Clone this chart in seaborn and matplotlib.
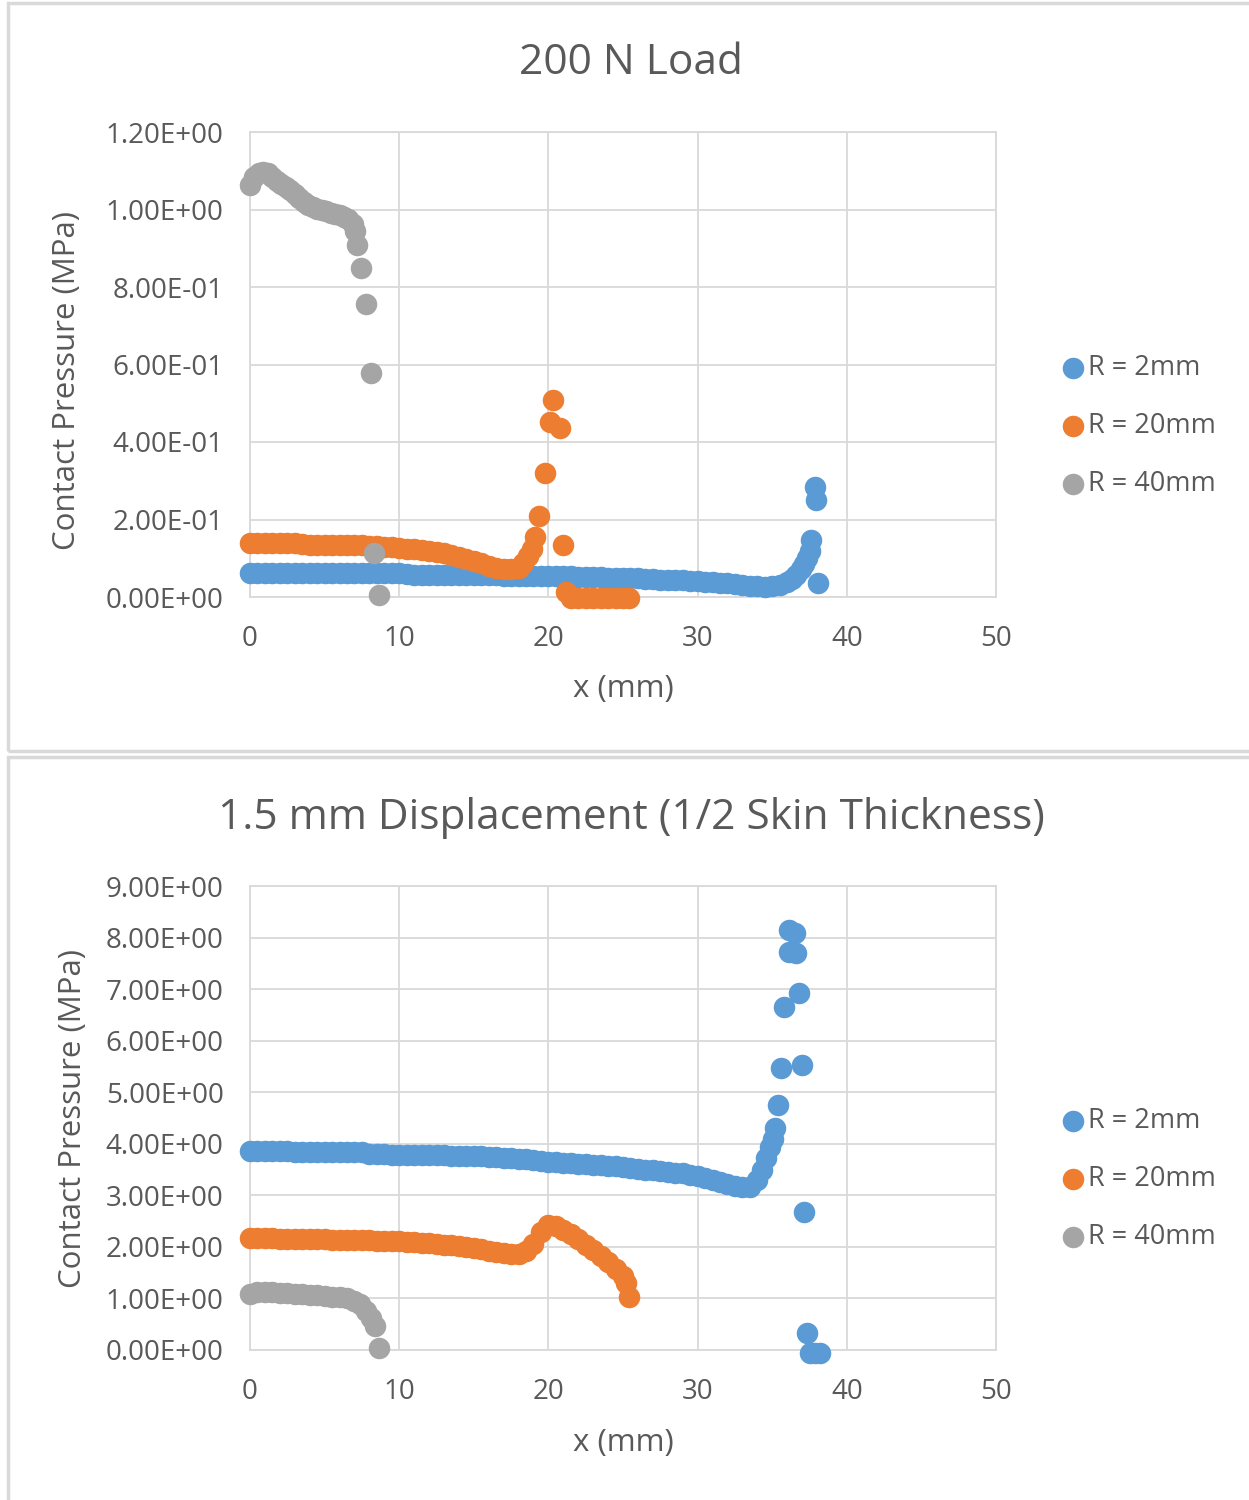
import matplotlib
matplotlib.use("Agg")
import matplotlib.pyplot as plt
from matplotlib.patches import Rectangle
import seaborn as sns

# =====================
# data: top chart (200 N load)
# =====================
top_r2_x = [0, 0.5, 1, 1.5, 2, 2.5, 3, 3.5, 4, 4.5, 5, 5.5, 6, 6.5, 7, 7.5, 8, 8.5, 9, 9.5,
            10, 10.5, 11, 11.5, 12, 12.5, 13, 13.5, 14, 14.5, 15, 15.5, 16, 16.5, 17, 17.5,
            18, 18.5, 19, 19.5, 20, 20.5, 21, 21.5, 22, 22.5, 23, 23.5, 24, 24.5, 25, 25.5,
            26, 26.5, 27, 27.5, 28, 28.5, 29, 29.5, 30, 30.5, 31, 31.5, 32, 32.5, 33, 33.5,
            34, 34.5, 35, 35.5, 36, 36.3, 36.6, 36.9, 37.1, 37.3, 37.5, 37.6, 37.87, 37.95, 38.1]
top_r2_y = [0.062, 0.062, 0.062, 0.062, 0.062, 0.062, 0.062, 0.062, 0.062, 0.062, 0.062,
            0.061, 0.061, 0.061, 0.061, 0.061, 0.061, 0.061, 0.061, 0.061, 0.061,
            0.059, 0.058, 0.057, 0.057, 0.057, 0.057, 0.057, 0.057,
            0.056, 0.056, 0.056, 0.056, 0.056, 0.055, 0.055, 0.055, 0.055,
            0.054, 0.054, 0.054, 0.053, 0.053, 0.053, 0.052, 0.052, 0.051, 0.051,
            0.050, 0.050, 0.049, 0.049,
            0.048, 0.047, 0.046, 0.045, 0.045, 0.044, 0.043, 0.042, 0.041, 0.040, 0.038,
            0.037, 0.035, 0.033, 0.031, 0.029, 0.028, 0.027, 0.028, 0.031, 0.038,
            0.047, 0.058, 0.072, 0.085, 0.100, 0.120, 0.147, 0.284, 0.250, 0.036]

top_r20_x = [0, 0.5, 1, 1.5, 2, 2.5, 3, 3.5, 4, 4.5, 5, 5.5, 6, 6.5, 7, 7.5, 8, 8.5, 9, 9.5,
             10, 10.5, 11, 11.5, 12, 12.5, 13, 13.5, 14, 14.5, 15, 15.5, 16, 16.5, 17, 17.5,
             18, 18.3, 18.6, 18.9, 19.1, 19.4, 19.8, 20.1, 20.3, 20.8, 21.0, 21.2, 21.5,
             22, 22.5, 23, 23.5, 24, 24.5, 25, 25.4]
top_r20_y = [0.139, 0.139, 0.139, 0.139, 0.139, 0.139, 0.139,
             0.136, 0.135, 0.135, 0.135, 0.134, 0.134, 0.134, 0.133, 0.133, 0.132,
             0.131, 0.130, 0.128, 0.126, 0.125, 0.123, 0.121, 0.119, 0.116, 0.113, 0.109,
             0.104, 0.099, 0.093, 0.087, 0.081, 0.076, 0.072, 0.071,
             0.076, 0.088, 0.105, 0.125, 0.155, 0.210, 0.320, 0.452, 0.508, 0.436, 0.134,
             0.012, -0.002, -0.003, -0.003, -0.003, -0.003, -0.003, -0.003, -0.003, -0.003]

top_r40_x = [0.0, 0.3, 0.6, 0.9, 1.2, 1.5, 1.8, 2.1, 2.4, 2.7, 3.0, 3.3, 3.6, 3.9, 4.2, 4.5,
             4.8, 5.1, 5.4, 5.7, 6.0, 6.3, 6.6, 6.9, 7.05, 7.2, 7.44, 7.77, 8.1, 8.3, 8.67]
top_r40_y = [1.063, 1.085, 1.095, 1.098, 1.093, 1.083, 1.074, 1.066, 1.058, 1.050, 1.040,
             1.030, 1.020, 1.012, 1.006, 1.002, 0.998, 0.995, 0.992, 0.988, 0.985, 0.981,
             0.975, 0.962, 0.945, 0.908, 0.850, 0.756, 0.579, 0.113, 0.005]

# =====================
# data: bottom chart (1.5 mm displacement)
# =====================
bot_r2_x = [0, 0.5, 1, 1.5, 2, 2.5, 3, 3.5, 4, 4.5, 5, 5.5, 6, 6.5, 7, 7.5, 8, 8.5, 9, 9.5,
            10, 10.5, 11, 11.5, 12, 12.5, 13, 13.5, 14, 14.5, 15, 15.5, 16, 16.5, 17, 17.5,
            18, 18.5, 19, 19.5, 20, 20.5, 21, 21.5, 22, 22.5, 23, 23.5, 24, 24.5, 25, 25.5,
            26, 26.5, 27, 27.5, 28, 28.5, 29, 29.5, 30, 30.5, 31, 31.5, 32, 32.5, 33,
            33.5, 34, 34.3, 34.6, 34.85, 35.05, 35.2, 35.4, 35.6, 35.8, 36.1, 36.1, 36.5,
            36.6, 36.8, 37.0, 37.1, 37.35, 37.55, 37.9, 38.2]
bot_r2_y = [3.86, 3.86, 3.86, 3.86, 3.86, 3.86, 3.85, 3.85, 3.85, 3.85, 3.85, 3.85, 3.85,
            3.84, 3.84, 3.84,
            3.80, 3.80, 3.80, 3.79, 3.79, 3.79, 3.79, 3.78, 3.78, 3.78, 3.78, 3.77, 3.77,
            3.77, 3.76, 3.76, 3.75,
            3.74, 3.73, 3.72, 3.71, 3.70, 3.68, 3.67, 3.65,
            3.64, 3.63, 3.62, 3.61, 3.60, 3.59, 3.58, 3.57, 3.56, 3.55, 3.53, 3.52, 3.50,
            3.49, 3.47, 3.46, 3.44, 3.43, 3.40, 3.37, 3.34, 3.30, 3.26, 3.22, 3.18, 3.16,
            3.17, 3.30, 3.50, 3.72, 3.94, 4.10, 4.30, 4.75, 5.47, 6.66, 7.72, 8.15, 8.08,
            7.70, 6.92, 5.53, 2.68, 0.33, -0.06, -0.06, -0.06]

bot_r20_x = [0, 0.5, 1, 1.5, 2, 2.5, 3, 3.5, 4, 4.5, 5, 5.5, 6, 6.5, 7, 7.5, 8, 8.5, 9, 9.5,
             10, 10.5, 11, 11.5, 12, 12.5, 13, 13.5, 14, 14.5, 15, 15.5, 16, 16.5, 17, 17.5,
             18, 18.5, 19, 19.5, 20, 20.5, 21, 21.5, 22, 22.5, 23, 23.5, 24, 24.5, 25,
             25.2, 25.4]
bot_r20_y = [2.17, 2.17, 2.17, 2.17, 2.16, 2.16, 2.16,
             2.15, 2.15, 2.15, 2.15, 2.14, 2.14, 2.14, 2.14, 2.13, 2.13,
             2.12, 2.12, 2.11, 2.11, 2.10, 2.09, 2.08, 2.07,
             2.06, 2.04, 2.03, 2.01, 1.99, 1.97, 1.95, 1.92, 1.90, 1.88, 1.86,
             1.86, 1.92, 2.06, 2.28, 2.42, 2.41, 2.33, 2.25, 2.15, 2.04, 1.93, 1.82, 1.70,
             1.58, 1.44, 1.30, 1.03]

bot_r40_x = [0, 0.5, 1, 1.5, 2, 2.5, 3, 3.5, 4, 4.5, 5, 5.5, 6, 6.5, 7, 7.4, 7.8, 8.1, 8.4,
             8.67]
bot_r40_y = [1.08, 1.12, 1.13, 1.12, 1.11, 1.10, 1.09, 1.08, 1.07, 1.06, 1.05, 1.03, 1.02,
             1.00, 0.96, 0.90, 0.75, 0.62, 0.46, 0.03]

series_names = ["R = 2mm", "R = 20mm", "R = 40mm"]
series_colors = ["#5B9BD5", "#ED7D31", "#A5A5A5"]
x_ticks = [0, 10, 20, 30, 40, 50]
top_y_ticks = [0, 0.2, 0.4, 0.6, 0.8, 1.0, 1.2]
bot_y_ticks = [0, 1, 2, 3, 4, 5, 6, 7, 8, 9]

# =====================
# style
# =====================
sns.set_style("white")
plt.rcParams["font.family"] = ["Open Sans", "DejaVu Sans"]
txt_color = "#595959"
grid_color = "#d9d9d9"

fig = plt.figure(figsize=(12.49, 15), dpi=100)

# chart frames
fig.add_artist(Rectangle((8 / 1249, 1 - 751 / 1500), 1.0, 748 / 1500,
                         transform=fig.transFigure, fill=False,
                         edgecolor=grid_color, lw=2.5))
fig.add_artist(Rectangle((8 / 1249, -0.01), 1.0, 1 - 757 / 1500 + 0.01,
                         transform=fig.transFigure, fill=False,
                         edgecolor=grid_color, lw=2.5))

ax_top = fig.add_axes([250 / 1249, 1 - 597 / 1500, 746 / 1249, 465 / 1500])
ax_bot = fig.add_axes([250 / 1249, 1 - 1350 / 1500, 746 / 1249, 464 / 1500])

panels = [
    (ax_top, [(top_r2_x, top_r2_y), (top_r20_x, top_r20_y), (top_r40_x, top_r40_y)],
     top_y_ticks, "200 N Load", 63, 380, 67, 689),
    (ax_bot, [(bot_r2_x, bot_r2_y), (bot_r20_x, bot_r20_y), (bot_r40_x, bot_r40_y)],
     bot_y_ticks, "1.5 mm Displacement (1/2 Skin Thickness)", 818, 1118, 73, 1443),
]

for ax, data, yt, title, title_y, ylab_y, ylab_x, xlab_y in panels:
    for (xs, ys), name, col in zip(data, series_names, series_colors):
        sns.scatterplot(x=xs, y=ys, ax=ax, color=col, s=240, linewidth=0,
                        label=name, clip_on=False, zorder=3)

    ax.set_xlim(0, 50)
    ax.set_ylim(yt[0], yt[-1])
    ax.set_xticks(x_ticks)
    ax.set_xticklabels([str(v) for v in x_ticks])
    ax.set_yticks(yt)
    ax.set_yticklabels([f"{v:.2E}" for v in yt])
    ax.tick_params(length=0, labelsize=20, labelcolor=txt_color)
    ax.tick_params(axis="y", pad=19)
    ax.tick_params(axis="x", pad=20)
    ax.grid(True, color=grid_color, lw=1.3)
    ax.set_axisbelow(True)
    for sp in ax.spines.values():
        sp.set_color(grid_color)
        sp.set_linewidth(1.3)
    ax.set_xlabel("")
    ax.set_ylabel("")

    ax.legend(loc="center left", bbox_to_anchor=(1.085, 0.368), frameon=False,
              fontsize=19.5, labelcolor=txt_color, handletextpad=0.05,
              labelspacing=1.1, handlelength=1.0, borderpad=0, borderaxespad=0)

    fig.text(631 / 1249, 1 - title_y / 1500, title, ha="center", va="center",
             fontsize=30.5, color=txt_color)
    fig.text(ylab_x / 1249, 1 - ylab_y / 1500, "Contact Pressure (MPa)", rotation=90,
             ha="center", va="center", fontsize=22.5, color=txt_color)
    fig.text(623 / 1249, 1 - xlab_y / 1500, "x (mm)", ha="center", va="center",
             fontsize=22.5, color=txt_color)

plt.savefig("out.png", dpi=100, facecolor="white")
